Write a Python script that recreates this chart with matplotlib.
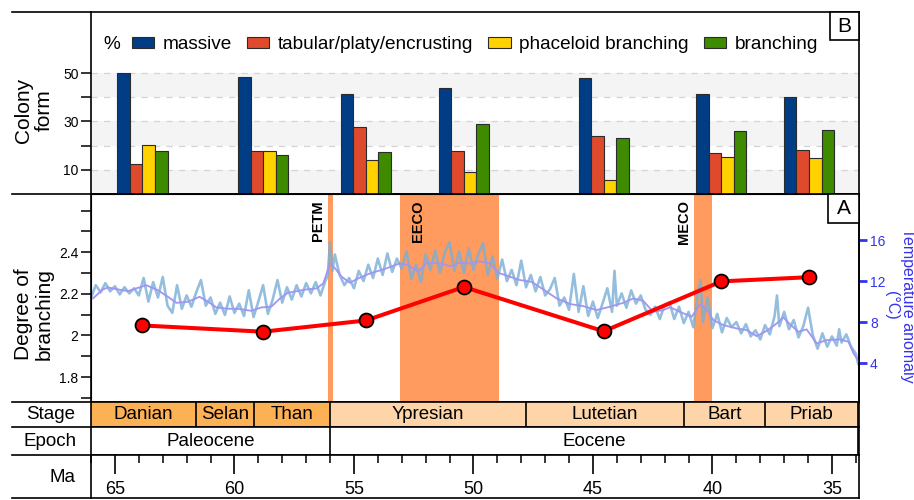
import numpy as np
import matplotlib

matplotlib.use('Agg')
from matplotlib import pyplot as plt
from matplotlib.lines import Line2D
from matplotlib.patches import Rectangle
from matplotlib.ticker import MultipleLocator

plt.rcParams['font.family'] = ['Liberation Sans', 'DejaVu Sans']

# colony form percentages per sampled interval (Ma)
sample_age = [63.85, 58.8, 54.5, 50.4, 44.55, 39.63, 35.96]
massive = [50.0, 48.3, 41.2, 43.8, 47.9, 41.3, 40.1]
tabular = [12.5, 17.7, 27.7, 17.9, 23.8, 16.9, 18.1]
phaceloid = [20.1, 17.7, 13.9, 8.9, 5.6, 15.5, 15.1]
branching = [17.6, 16.3, 17.3, 28.8, 23.0, 26.1, 26.6]
form_names = ['massive', 'tabular/platy/encrusting', 'phaceloid branching', 'branching']
form_colors = ['#003d85', '#e04a2c', '#ffd200', '#3e8b00']

# degree of branching
branch_degree = [2.048, 2.018, 2.072, 2.233, 2.02, 2.26, 2.28]

# temperature anomaly record
temp_age = [66.0, 65.8, 65.6, 65.4, 65.2, 65.0, 64.8, 64.6, 64.4, 64.2, 64.0,
            63.8, 63.6, 63.4, 63.2, 63.0, 62.8, 62.6, 62.4, 62.2, 62.0,
            61.8, 61.6, 61.4, 61.2, 61.0, 60.8, 60.6, 60.4, 60.2, 60.0,
            59.8, 59.6, 59.4, 59.2, 59.0,
            58.8, 58.6, 58.4, 58.2, 58.0, 57.8, 57.6, 57.4, 57.2, 57.0,
            56.8, 56.6, 56.4, 56.2, 56.1, 56.0, 55.9, 55.8,
            55.6, 55.4, 55.2, 55.0, 54.8, 54.6, 54.4, 54.2, 54.0, 53.8,
            53.6, 53.4, 53.2,
            53.0, 52.8, 52.6, 52.4, 52.2, 52.0, 51.8, 51.6, 51.4, 51.2,
            51.0, 50.8, 50.6, 50.4, 50.2, 50.0, 49.8, 49.6, 49.4, 49.2, 49.0,
            48.8, 48.6, 48.4, 48.2, 48.0, 47.8, 47.6, 47.4, 47.2, 47.0,
            46.8, 46.6, 46.4,
            46.2, 46.0, 45.8, 45.6, 45.4, 45.2, 45.0, 44.8, 44.6, 44.4,
            44.2, 44.1, 44.0, 43.8, 43.6, 43.4, 43.2, 43.0, 42.8, 42.6,
            42.4, 42.2, 42.0,
            41.8, 41.6, 41.4, 41.2, 41.0, 40.8, 40.6, 40.5, 40.4, 40.2, 40.0,
            39.8, 39.6, 39.4, 39.2, 39.0, 38.8, 38.6, 38.4, 38.2, 38.0,
            37.8, 37.6, 37.4, 37.3, 37.2, 37.0, 36.8, 36.6, 36.4, 36.2, 36.0,
            35.8, 35.6, 35.4, 35.2, 35.0, 34.8, 34.7, 34.6, 34.4, 34.2,
            34.0, 33.9]
temp_raw = [10.4, 11.6, 10.9, 11.8, 11.0, 11.5, 10.7, 11.4, 10.8, 11.3, 10.6,
            12.3, 10.0, 11.9, 10.4, 12.4, 9.6, 8.9, 11.6, 9.3, 10.6,
            9.5, 10.9, 12.1, 9.6, 10.4, 8.8, 9.9, 8.7, 10.5, 8.9,
            9.8, 8.6, 11.1, 8.5, 10.0,
            11.6, 8.8, 10.2, 12.1, 9.9, 11.4, 10.2, 11.6, 10.5, 11.8,
            10.8, 11.9, 10.6, 12.0, 12.5, 15.8, 13.0, 14.6,
            12.6, 11.6, 12.3, 11.3, 13.0, 12.0, 13.6, 12.3, 14.2, 12.6,
            14.7, 12.9, 14.2,
            13.2, 14.9, 12.2, 13.6, 11.9, 14.6, 13.1, 15.0, 12.8, 14.8,
            15.8, 13.0, 14.9, 12.8, 15.2, 13.1, 14.6, 15.7, 12.6, 14.4, 12.2,
            14.1, 12.0, 13.1, 11.6, 14.0, 11.4, 12.6, 11.0, 12.4, 10.6,
            11.2, 12.3, 9.6,
            10.4, 9.2, 12.7, 9.0, 11.5, 8.6, 10.0, 8.4, 9.8, 11.3,
            9.0, 13.0, 9.6, 10.8, 9.4, 11.1, 9.8, 10.6, 9.2, 8.7,
            9.5, 8.3, 9.7,
            9.9, 8.3, 9.5, 7.9, 9.0, 7.5, 11.0, 12.1, 8.0, 10.4, 7.4,
            8.8, 7.0, 8.4, 7.5, 8.0, 6.9, 7.8, 6.6, 7.2, 6.3,
            7.7, 6.8, 8.6, 10.6, 7.6, 9.0, 7.3, 8.2, 6.5, 7.6, 9.4,
            6.7, 5.4, 6.9, 5.6, 6.6, 5.7, 7.3, 6.0, 6.8, 5.6,
            4.9, 3.9]

# smoothed temperature curve
smooth_age = [65.92, 65.5, 65.29, 64.87, 64.46, 63.69, 63.2, 62.78, 62.43, 61.95,
              61.46, 61.1, 60.76, 60.27, 59.85, 59.3, 58.88, 58.46, 58.1, 57.76,
              57.54, 56.98, 56.56, 56.28, 56.0, 55.79, 55.51, 55.17, 54.82, 54.33,
              53.77, 53.08, 52.73, 52.31, 51.96, 51.4, 50.98, 50.56, 50.15, 49.73,
              49.31, 48.96, 48.47, 48.05, 47.57, 47.08, 46.52, 45.96, 45.41, 44.85,
              44.29, 43.73, 43.31, 42.9, 42.48, 42.06, 41.78, 41.36, 40.87, 40.52,
              40.24, 39.97, 39.55, 38.99, 38.57, 38.15, 37.73, 37.31, 37.03, 36.76,
              36.41, 36.06, 35.64, 35.22, 34.67, 34.31, 34.1, 33.82]
smooth_temp = [10.31, 11.19, 11.38, 11.19, 11.02, 11.6, 11.1, 10.47, 9.88, 9.98,
               10.47, 9.98, 9.43, 9.3, 9.3, 9.1, 9.43, 9.5, 10.3, 10.86,
               10.96, 11.19, 11.29, 11.78, 13.73, 13.24, 12.42, 11.84, 12.26, 12.75,
               13.14, 13.73, 13.56, 12.91, 13.79, 13.73, 13.46, 13.79, 13.72, 13.93,
               13.73, 12.81, 12.42, 12.1, 11.93, 11.19, 10.31, 9.76, 9.56, 9.17,
               9.5, 9.88, 10.31, 10.08, 9.0, 9.17, 9.45, 9.0, 8.52, 9.76,
               9.24, 8.2, 7.71, 7.38, 7.22, 6.63, 7.15, 7.87, 8.45, 7.8,
               7.05, 7.29, 5.92, 6.24, 6.31, 6.08, 4.95, 3.97]

# climatic events (start, end in Ma)
event_names = ['PETM', 'EECO', 'MECO']
event_start = [56.1, 53.08, 40.78]
event_end = [55.88, 48.95, 40.0]

# chronostratigraphy
stage_names = ['Danian', 'Selan', 'Than', 'Ypresian', 'Lutetian', 'Bart', 'Priab']
stage_base = [66.0, 61.6, 59.2, 56.0, 47.8, 41.2, 37.8]
stage_top = [61.6, 59.2, 56.0, 47.8, 41.2, 37.8, 33.9]
stage_colors = ['#fcb155'] * 3 + ['#fdd5a9'] * 4
epoch_names = ['Paleocene', 'Eocene']
epoch_base = [66.0, 56.0]
epoch_top = [56.0, 33.9]

x_lim = (66.0, 33.87)
frame_lw = 1.2
shade = '#ff9b5e'
temp_blue = '#3333ee'

fig = plt.figure(figsize=(9.14, 5.0), dpi=100)
left, width = 0.0996, 0.8402
axB = fig.add_axes([left, 0.612, width, 0.364])
axA = fig.add_axes([left, 0.196, width, 0.416])
axS = fig.add_axes([left, 0.146, width, 0.050])
axE = fig.add_axes([left, 0.090, width, 0.056])
axM = fig.add_axes([left, 0.004, width, 0.086])

for ax in (axB, axA, axS, axE, axM):
    ax.set_xlim(*x_lim)
    for sp in ax.spines.values():
        sp.set_linewidth(frame_lw)

# ---- B: colony form bars
bw = 0.527
ages = np.array(sample_age)
for k, (vals, name, col) in enumerate(zip([massive, tabular, phaceloid, branching],
                                          form_names, form_colors)):
    axB.bar(ages + (1.5 - k) * bw, vals, width=bw, color=col, edgecolor='#2b2b2b',
            linewidth=0.8, label=name, zorder=3)
for lo in (0, 20, 40):
    axB.axhspan(lo, lo + 10, color='#f4f4f4', zorder=0, lw=0)
for yv in (10, 20, 30, 40, 50):
    axB.axhline(yv, color='#d4d4d4', lw=0.9, ls=(0, (5, 5)), zorder=1)
axB.set_ylim(0, 75.3)
axB.set_yticks([10, 20, 30, 40, 50])
axB.set_yticklabels(['10', '', '30', '', '50'])
axB.tick_params(axis='y', length=7, width=1.1, labelsize=10, pad=2)
axB.set_xticks([])
axB.text(0.016, 0.82, '%', transform=axB.transAxes, fontsize=13.7, va='center', ha='left')
axB.legend(loc='center left', bbox_to_anchor=(0.053, 0.82), ncol=4, frameon=False,
           fontsize=13.7, handlelength=1.17, handleheight=0.55, handletextpad=0.45,
           columnspacing=0.8, borderaxespad=0, borderpad=0)

# ---- A: temperature (behind) and degree of branching
axT = axA.twinx()
axT.set_zorder(axA.get_zorder() - 1)
axA.patch.set_visible(False)
axT.patch.set_visible(True)
axT.patch.set_facecolor('white')
for s, e in zip(event_start, event_end):
    axT.axvspan(s, e, color=shade, lw=0, zorder=0)
axT.plot(temp_age, temp_raw, color='#7aaed6', lw=1.9, alpha=0.8, zorder=2)
axT.plot(smooth_age, smooth_temp, color='#a095f2', lw=1.3, zorder=3)
axT.set_ylim(0.2, 20.5)
axT.set_yticks([4, 8, 12, 16])
axT.tick_params(axis='y', colors=temp_blue, length=6, width=2, labelsize=10, pad=2)
axT.spines['right'].set_color('black')
axT.spines['right'].set_linewidth(frame_lw)
axT.set_xlim(*x_lim)
fig.text(0.984, 0.39, 'Temperature anomaly\n(°C)', rotation=270, color=temp_blue,
         fontsize=11.5, ha='center', va='center', linespacing=1.1)

axA.plot(sample_age, branch_degree, color='#ff0000', lw=2.9, zorder=5,
         marker='o', markersize=10, markerfacecolor='#ff0000',
         markeredgecolor='black', markeredgewidth=1.3)
axA.set_ylim(1.68, 2.68)
axA.set_yticks([1.8, 2.0, 2.2, 2.4])
axA.set_yticklabels(['1.8', '2', '2.2', '2.4'])
axA.yaxis.set_minor_locator(MultipleLocator(0.1))
axA.tick_params(axis='y', which='both', length=7, width=1.1, labelsize=10, pad=2)
axA.set_xticks([])
axT.set_xticks([])

evt_kw = dict(rotation=90, fontsize=10.5, fontweight='bold', va='top',
              family=['Liberation Sans Narrow', 'Liberation Sans', 'DejaVu Sans'],
              fontstretch='condensed', transform=axA.get_xaxis_transform(), zorder=6)
axA.text(event_start[0] + 0.1, 0.97, event_names[0], ha='right', **evt_kw)
axA.text(event_start[1] - 0.76, 0.97, event_names[1], ha='center', **evt_kw)
axA.text(event_start[2] + 0.1, 0.97, event_names[2], ha='right', **evt_kw)

# panel letters
for ax, letter, bwid, bhgt in ((axB, 'B', 0.0378, 0.154), (axA, 'A', 0.040, 0.139)):
    ax.add_patch(Rectangle((1 - bwid, 1 - bhgt), bwid, bhgt, transform=ax.transAxes,
                           facecolor='white', edgecolor='black', lw=frame_lw,
                           zorder=10, clip_on=False))
    ax.text(1 - bwid / 2, 1 - bhgt / 2, letter, transform=ax.transAxes, fontsize=15,
            ha='center', va='center', zorder=11)

# ---- stage / epoch rows
for name, b, t, c in zip(stage_names, stage_base, stage_top, stage_colors):
    axS.axvspan(b, t, color=c, lw=0)
    axS.axvline(t, color='black', lw=frame_lw)
    axS.text((b + t) / 2, 0.5, name, ha='center', va='center', fontsize=13.5,
             transform=axS.get_xaxis_transform())
for name, b, t in zip(epoch_names, epoch_base, epoch_top):
    axE.axvline(t, color='black', lw=frame_lw)
    axE.text((b + t) / 2, 0.5, name, ha='center', va='center', fontsize=13.5,
             transform=axE.get_xaxis_transform())
for ax in (axS, axE):
    ax.set_xticks([])
    ax.set_yticks([])

# ---- Ma scale
axM.set_yticks([])
axM.set_xticks([65, 60, 55, 50, 45, 40, 35])
axM.xaxis.set_minor_locator(MultipleLocator(1))
axM.tick_params(axis='x', which='both', top=True, bottom=False, labeltop=False,
                labelbottom=True, direction='in')
axM.tick_params(axis='x', which='major', length=14, width=1.2, labelsize=13, pad=-12.5)
axM.tick_params(axis='x', which='minor', length=5.5, width=1.1)

# left-hand labels and extended row lines
fig.text(0.037, 0.78, 'Colony\nform', rotation=90, fontsize=15, ha='center',
         va='center', linespacing=1.1)
fig.text(0.037, 0.372, 'Degree of\nbranching', rotation=90, fontsize=15, ha='center',
         va='center', linespacing=1.1)
fig.text(0.055, 0.171, 'Stage', fontsize=13.5, ha='center', va='center')
fig.text(0.055, 0.118, 'Epoch', fontsize=13.5, ha='center', va='center')
fig.text(0.068, 0.046, 'Ma', fontsize=13.5, ha='center', va='center')
for yy in (0.976, 0.612, 0.196, 0.146, 0.090, 0.004):
    fig.add_artist(Line2D([0.013, left], [yy, yy], color='black', lw=frame_lw))

fig.savefig('out.png', dpi=100)
